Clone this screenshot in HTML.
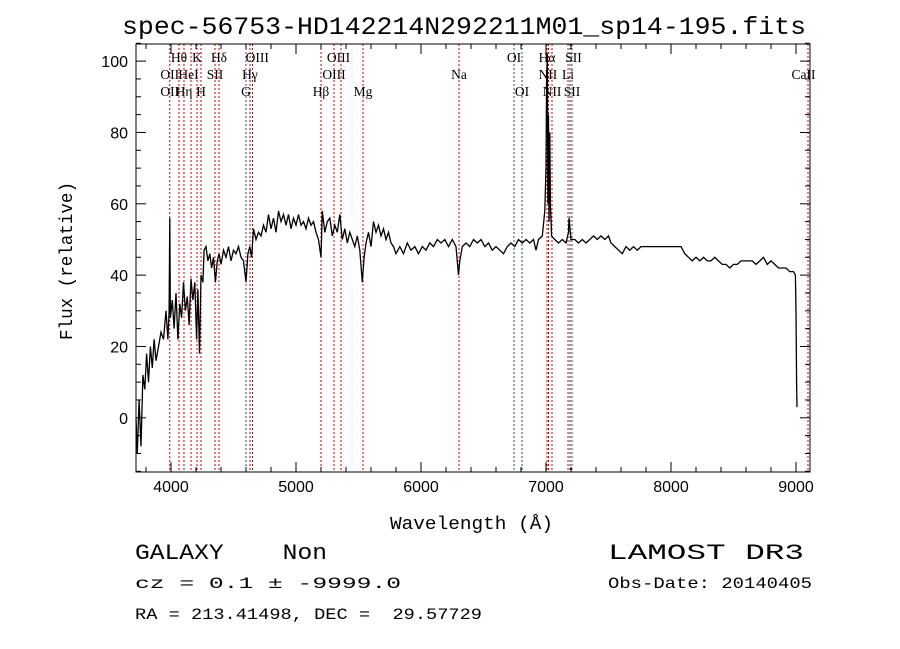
<!DOCTYPE html>
<html><head><meta charset="utf-8"><style>
html,body{margin:0;padding:0;background:#fff;}
svg{display:block;}
text{white-space:pre;}
</style></head><body>
<svg id="chart" width="900" height="649" viewBox="0 0 900 649" xmlns="http://www.w3.org/2000/svg">
<rect width="900" height="649" fill="#fff"/>
<text x="122" y="34" textLength="684" lengthAdjust="spacingAndGlyphs" font-family="Liberation Mono, monospace" font-size="25">spec-56753-HD142214N292211M01_sp14-195.fits</text>
<g id="lines"></g>
<g id="labels" font-family="Liberation Serif, serif" font-size="13.5"></g>
<g id="spec"></g>
<g id="axes"></g>
<text x="390" y="529" textLength="163" lengthAdjust="spacingAndGlyphs" font-family="Liberation Mono, monospace" font-size="18">Wavelength (Å)</text>
<text transform="translate(72,340) rotate(-90)" textLength="158" lengthAdjust="spacingAndGlyphs" font-family="Liberation Mono, monospace" font-size="18">Flux (relative)</text>
<text x="135" y="559" textLength="192" lengthAdjust="spacingAndGlyphs" font-family="Liberation Mono, monospace" font-size="22">GALAXY    Non</text>
<text x="135" y="588" textLength="266" lengthAdjust="spacingAndGlyphs" font-family="Liberation Mono, monospace" font-size="16">cz = 0.1 ± -9999.0</text>
<text x="135" y="619" textLength="347" lengthAdjust="spacingAndGlyphs" font-family="Liberation Mono, monospace" font-size="16">RA = 213.41498, DEC =  29.57729</text>
<text x="608" y="559" textLength="196" lengthAdjust="spacingAndGlyphs" font-family="Liberation Mono, monospace" font-size="22">LAMOST DR3</text>
<text x="608" y="588" textLength="204" lengthAdjust="spacingAndGlyphs" font-family="Liberation Mono, monospace" font-size="16">Obs-Date: 20140405</text>
</svg>
<script>
const waves=[3720,3730,3745,3760,3775,3790,3805,3820,3835,3850,3865,3880,3900,3920,3940,3960,3975,3985,3990,3995,4010,4025,4040,4055,4070,4085,4100,4115,4130,4145,4160,4175,4190,4205,4215,4228,4240,4255,4265,4280,4295,4310,4325,4340,4355,4370,4385,4400,4420,4440,4460,4480,4500,4520,4540,4560,4580,4600,4615,4630,4645,4660,4680,4700,4720,4740,4760,4780,4800,4820,4840,4860,4880,4900,4920,4940,4960,4980,5000,5020,5040,5060,5080,5100,5120,5140,5160,5180,5200,5210,5230,5250,5270,5290,5310,5330,5350,5370,5390,5410,5430,5450,5470,5490,5510,5530,5545,5560,5580,5600,5620,5640,5660,5680,5700,5720,5740,5760,5780,5800,5830,5860,5890,5920,5950,5980,6010,6040,6070,6100,6130,6160,6190,6220,6250,6280,6300,6310,6330,6360,6390,6420,6450,6480,6510,6540,6570,6600,6630,6660,6690,6720,6750,6780,6810,6840,6870,6900,6920,6940,6970,6990,7000,7005,7010,7015,7020,7025,7030,7035,7045,7070,7100,7130,7160,7180,7185,7192,7200,7230,7260,7290,7320,7350,7380,7410,7440,7470,7500,7520,7550,7580,7610,7640,7670,7700,7730,7760,7800,7840,7880,7920,7960,8000,8040,8080,8110,8140,8170,8200,8230,8260,8290,8320,8350,8380,8410,8440,8470,8500,8530,8560,8590,8620,8650,8680,8710,8740,8770,8800,8830,8860,8890,8920,8950,8980,8995,9000,9005,9008];
const flux=[0,-10,5,-8,12,8,18,10,20,14,22,16,20,24,22,30,22,30,56,28,33,25,35,22,32,28,38,30,34,26,39,33,38,22,36,18,40,38,47,48,44,46,42,45,38,44,46,43,47,45,48,44,47,46,48,45,44,38,46,48,45,53,50,52,51,54,52,57,53,56,52,58,55,57,54,57,53,56,54,57,54,55,53,56,54,55,52,50,45,58,52,55,56,51,54,52,57,50,53,49,52,50,48,51,47,38,45,49,52,48,55,52,54,51,53,50,52,49,48,46,48,46,49,47,48,46,48,47,49,48,50,49,50,48,50,48,40,44,48,49,48,50,49,50,48,49,47,48,47,46,48,49,48,50,49,50,49,50,47,50,51,58,70,95,102,60,85,55,80,60,51,50,49,50,49,52,56,53,50,50,49,50,49,50,51,50,51,50,51,49,48,47,46,48,47,48,47,48,48,48,48,48,48,48,48,48,46,45,44,45,44,45,44,44,45,44,43,43,42,43,43,44,44,44,44,43,44,45,43,44,43,42,42,42,41,41,40,30,10,3];
const lineWaves=[3990,4064,4104,4160,4208,4240,4352,4384,4600,4632,4652,5200,5304,5360,5536,6304,6744,6808,7008,7020,7048,7176,7192,7208,9096];
const lineColors=["r","r","r","r","r","r","r","r","k","r","r","r","r","r","r","r","k","k","r","r","r","k","r","k","r"];
const labelTexts=["Hθ","K","Hδ","OIII","OIII","OI","Hα","SII","OII","HeI","SII","Hγ","OIII","Na","NII","Li","CaII","OII","Hη","H","G","Hβ","Mg","OI","NII","SII"];
const labelWaves=[4064,4208,4384,4690,5340,6744,7008,7220,3990,4140,4352,4632,5304,6304,7015,7176,9060,3990,4104,4240,4600,5200,5536,6808,7048,7208];
const labelRows=[0,0,0,0,0,0,0,0,1,1,1,1,1,1,1,1,1,2,2,2,2,2,2,2,2,2];
const xTicks=[4000,5000,6000,7000,8000,9000];
const yTicks=[0,20,40,60,80,100];
const L=136,R=810,T=44,B=472;
const X0=3720,X1=9112,Y0=-15.2,Y1=104.8;
const sx=w=>L+(w-X0)/(X1-X0)*(R-L);
const sy=f=>B-(f-Y0)/(Y1-Y0)*(B-T);
const NS="http://www.w3.org/2000/svg";
function mk(tag,parent,attrs){const e=document.createElementNS(NS,tag);for(const k in attrs)e.setAttribute(k,attrs[k]);parent.appendChild(e);return e;}
const gl=document.getElementById('lines');
lineWaves.forEach((w,i)=>{
 const l=mk('line',gl,{x1:sx(w),x2:sx(w),y1:T,y2:B,stroke:lineColors[i]==="r"?"#cc0000":"#3a4a6a","stroke-width":1,"stroke-dasharray":"2,2"});
 
 
});
const glab=document.getElementById('labels');
labelTexts.forEach((t,i)=>{
 const e=mk('text',glab,{x:sx(labelWaves[i]),y:62+labelRows[i]*17,"text-anchor":"middle"});
 e.textContent=t;
 
 
});
const gs=document.getElementById('spec');
let d="";
waves.forEach((w,i)=>{d+=(i?"L":"M")+sx(w).toFixed(1)+","+sy(flux[i]).toFixed(1);});
const p=mk('path',gs,{d:d,fill:"none",stroke:"#000","stroke-width":1.3});


const ga=document.getElementById('axes');
const fr=mk('rect',ga,{x:L,y:T,width:R-L,height:B-T,fill:"none",stroke:"#000","stroke-width":1});


for(let w=3800;w<=9100;w+=200){
 const maj=w%1000===0, len=maj?10:5;
 mk('line',ga,{x1:sx(w),x2:sx(w),y1:B,y2:B-len,stroke:"#000"});
 mk('line',ga,{x1:sx(w),x2:sx(w),y1:T,y2:T+len,stroke:"#000"});
}
xTicks.forEach(w=>{
 const t=mk('text',ga,{x:sx(w),y:B+20,"text-anchor":"middle","font-family":"Liberation Sans, sans-serif","font-size":16});
 t.textContent=w;
 
 
});
for(let f=-15;f<=105;f+=5){
 const maj=f%20===0, len=maj?10:5;
 mk('line',ga,{x1:L,x2:L+len,y1:sy(f),y2:sy(f),stroke:"#000"});
 mk('line',ga,{x1:R,x2:R-len,y1:sy(f),y2:sy(f),stroke:"#000"});
}
yTicks.forEach(f=>{
 const t=mk('text',ga,{x:L-8,y:sy(f)+6,"text-anchor":"end","font-family":"Liberation Sans, sans-serif","font-size":16});
 t.textContent=f;
 
 
});
</script>
</body></html>
